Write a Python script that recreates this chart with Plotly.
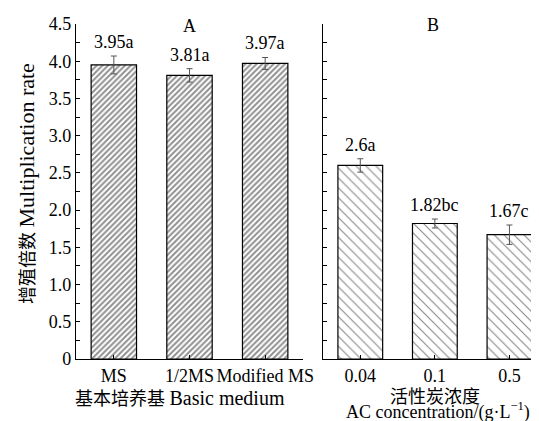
import plotly.graph_objects as go

# Data
cats_a = ["MS", "1/2MS", "Modified MS"]
vals_a = [3.95, 3.81, 3.97]
errs_a = [0.12, 0.09, 0.08]
labels_a = ["3.95a", "3.81a", "3.97a"]

cats_b = ["0.04", "0.1", "0.5"]
vals_b = [2.6, 1.82, 1.67]
errs_b = [0.09, 0.06, 0.13]
labels_b = ["2.6a", "1.82bc", "1.67c"]

y_ticks = [0, 0.5, 1.0, 1.5, 2.0, 2.5, 3.0, 3.5, 4.0, 4.5]
y_ticktext = ["0", "0.5", "1.0", "1.5", "2.0", "2.5", "3.0", "3.5", "4.0", "4.5"]

FONT = "Liberation Serif, Times New Roman, Noto Sans CJK SC, serif"
W, H = 535, 413
FS = 18


def px(x):
    return x / W


def py(y):
    return 1 - y / H


def mixed(cjk, latin, cjk_size, latin_size):
    return (f'<span style="font-size:{cjk_size}px">{cjk}</span>'
            f'<span style="font-size:{latin_size}px">{latin}</span>')


fig = go.Figure()
fig.add_trace(go.Bar(
    x=cats_a, y=vals_a, xaxis="x", yaxis="y", width=0.6,
    marker=dict(color="white", line=dict(color="black", width=1.2),
                pattern=dict(shape="/", size=4, solidity=0.5, fgcolor="#222", bgcolor="white")),
    error_y=dict(type="data", array=errs_a, color="#555", thickness=1, width=3),
    showlegend=False,
))
fig.add_trace(go.Bar(
    x=cats_b, y=vals_b, xaxis="x2", yaxis="y2", width=0.6,
    marker=dict(color="white", line=dict(color="black", width=1.2),
                pattern=dict(shape="\\", size=7, solidity=0.16, fgcolor="#111", bgcolor="white")),
    error_y=dict(type="data", array=errs_b, color="#555", thickness=1, width=3),
    showlegend=False,
))

ydom = [py(351), py(16)]
axis_common = dict(showline=True, linecolor="black", linewidth=1.2, mirror=False,
                   showgrid=False, zeroline=False, automargin=False)
yaxis_common = dict(axis_common, range=[0, 4.5], tickvals=y_ticks, ticktext=y_ticktext,
                    ticks="inside", ticklen=4, tickcolor="black", tickwidth=1,
                    minor=dict(tickvals=[0.25, 0.75, 1.25, 1.75, 2.25, 2.75, 3.25, 3.75, 4.25],
                               ticks="inside", ticklen=4, tickcolor="black", tickwidth=1),
                    domain=ydom)

fig.update_layout(
    width=W, height=H,
    margin=dict(l=0, r=0, t=0, b=0, autoexpand=False),
    plot_bgcolor="white", paper_bgcolor="white",
    font=dict(family=FONT, size=FS, color="black"),
    xaxis=dict(axis_common, type="category", domain=[px(68), px(295)], anchor="y",
               range=[-0.5, 2.5], ticks="inside", ticklen=4, tickcolor="black",
               tickangle=0, tickfont=dict(size=FS)),
    xaxis2=dict(axis_common, type="category", domain=[px(315), 1.0], anchor="y2",
                range=[-0.5, 2.45], ticks="inside", ticklen=4, tickcolor="black",
                tickangle=0, tickfont=dict(size=FS)),
    yaxis=dict(yaxis_common, anchor="x", tickfont=dict(size=FS)),
    yaxis2=dict(yaxis_common, anchor="x2", showticklabels=False),
)

annotations = []
for i, (v, e, t) in enumerate(zip(vals_a, errs_a, labels_a)):
    annotations.append(dict(x=i, y=v + e, xref="x", yref="y", text=t, showarrow=False,
                            xanchor="center", yanchor="bottom", yshift=2, font=dict(size=FS)))
for i, (v, e, t) in enumerate(zip(vals_b, errs_b, labels_b)):
    annotations.append(dict(x=i, y=v + e, xref="x2", yref="y2", text=t, showarrow=False,
                            xanchor="center", yanchor="bottom", yshift=2, font=dict(size=FS)))

annotations += [
    dict(x=px(181), y=py(18), xref="paper", yref="paper", text="A", showarrow=False,
         font=dict(size=FS), xanchor="center", yanchor="middle"),
    dict(x=px(425), y=py(17), xref="paper", yref="paper", text="B", showarrow=False,
         font=dict(size=FS), xanchor="center", yanchor="middle"),
    dict(x=px(18), y=py(176), xref="paper", yref="paper",
         text=mixed("增殖倍数 ", "Multiplication rate", 18, 22),
         showarrow=False, textangle=-90, font=dict(size=20), xanchor="center", yanchor="middle"),
    dict(x=px(172), y=py(390), xref="paper", yref="paper",
         text=mixed("基本培养基 ", "Basic medium", 18, 20),
         showarrow=False, font=dict(size=20), xanchor="center", yanchor="middle"),
    dict(x=px(427), y=py(389), xref="paper", yref="paper",
         text="活性炭浓度",
         showarrow=False, font=dict(size=18), xanchor="center", yanchor="middle"),
    dict(x=px(430), y=py(403), xref="paper", yref="paper",
         text="AC concentration/(g·L<sup>−1</sup>)",
         showarrow=False, font=dict(size=18), xanchor="center", yanchor="middle"),
]
fig.update_layout(annotations=annotations)

fig.write_html("out.html")
